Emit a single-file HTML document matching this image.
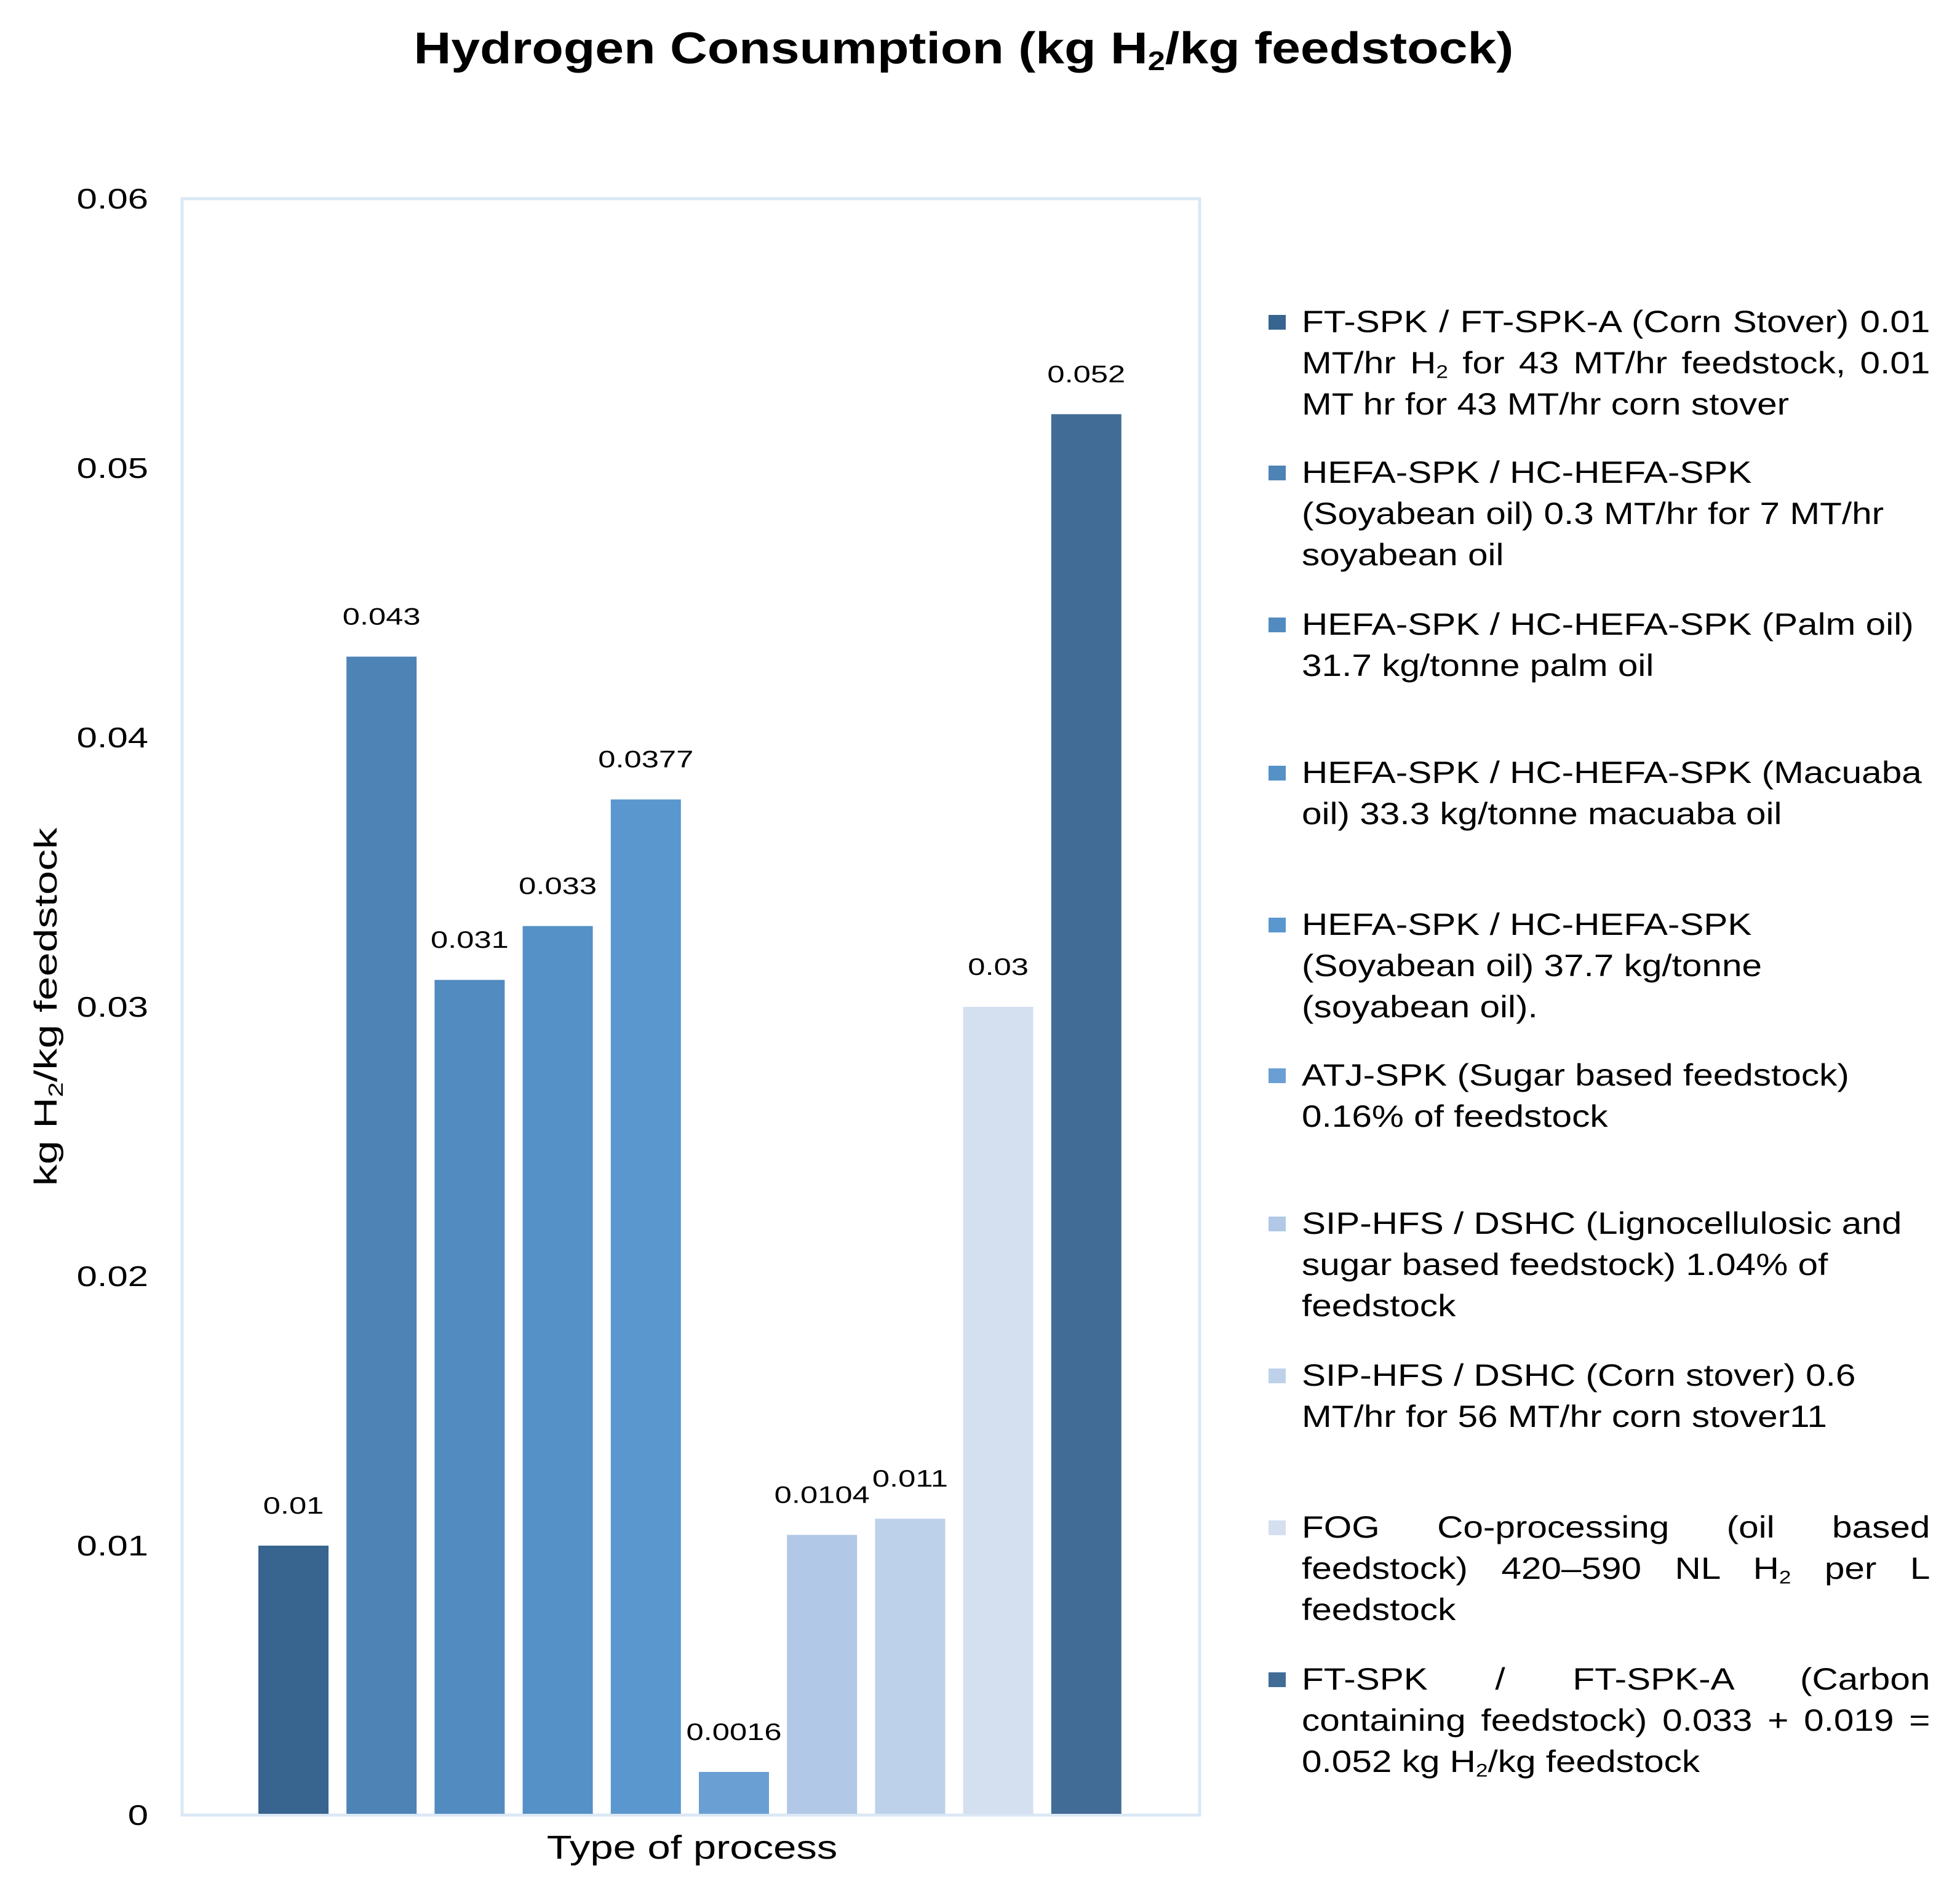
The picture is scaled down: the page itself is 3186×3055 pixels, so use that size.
<!DOCTYPE html>
<html><head><meta charset="utf-8"><style>
html,body{margin:0;padding:0;background:#fff;}
body{width:3186px;height:3055px;position:relative;overflow:hidden;font-family:"Liberation Sans",Arial,sans-serif;color:#000;}
#title{position:absolute;left:-30px;width:3186px;top:38px;text-align:center;font-weight:bold;font-size:72px;transform:scaleX(1.17);transform-origin:1573px 0;}
#legend{position:absolute;left:2062px;top:0;width:1080px;}
.le{position:absolute;left:0;width:1080px;font-size:50px;line-height:67px;}
.sw{position:absolute;left:0;top:22px;width:28px;height:24px;}
.lt{margin-left:54px;width:873px;transform:scaleX(1.17);transform-origin:0 0;}
.ln{white-space:nowrap;text-align:left;}
.ln.j{text-align:justify;text-align-last:justify;}
sub{font-size:60%;vertical-align:-0.25em;line-height:0;}
</style></head><body>
<div id="title">Hydrogen Consumption (kg H<sub>2</sub>/kg feedstock)</div>
<svg id="chart" width="3186" height="3055" style="position:absolute;left:0;top:0" xmlns="http://www.w3.org/2000/svg"></svg>
<div id="legend"></div>
<script>
const categories=["FT-SPK corn stover","HEFA soyabean 0.3","HEFA palm","HEFA macuaba","HEFA soyabean 37.7","ATJ-SPK","SIP lignocellulosic","SIP corn stover","FOG co-processing","FT-SPK carbon"];
const values=[0.01,0.043,0.031,0.033,0.0377,0.0016,0.0104,0.011,0.03,0.052];
const valueLabels=["0.01","0.043","0.031","0.033","0.0377","0.0016","0.0104","0.011","0.03","0.052"];
const colors=["#386490","#4e83b5","#528bc0","#5590c7","#5a97cf","#6a9fd4","#b1c8e6","#bed1ea","#d4dff0","#416c96"];
const yTicks=[0,0.01,0.02,0.03,0.04,0.05,0.06];
const yTickLabels=["0","0.01","0.02","0.03","0.04","0.05","0.06"];
// each legend entry: lines; "|" prefix = justified full-width line
const legendLines=[
["|FT-SPK / FT-SPK-A (Corn Stover) 0.01","|MT/hr H<sub>2</sub> for 43 MT/hr feedstock, 0.01","MT hr for 43 MT/hr corn stover"],
["HEFA-SPK / HC-HEFA-SPK","(Soyabean oil) 0.3 MT/hr for 7 MT/hr","soyabean oil"],
["HEFA-SPK / HC-HEFA-SPK (Palm oil)","31.7 kg/tonne palm oil"],
["HEFA-SPK / HC-HEFA-SPK (Macuaba","oil) 33.3 kg/tonne macuaba oil"],
["HEFA-SPK / HC-HEFA-SPK","(Soyabean oil) 37.7 kg/tonne","(soyabean oil)."],
["ATJ-SPK (Sugar based feedstock)","0.16% of feedstock"],
["SIP-HFS / DSHC (Lignocellulosic and","sugar based feedstock) 1.04% of","feedstock"],
["SIP-HFS / DSHC (Corn stover) 0.6","MT/hr for 56 MT/hr corn stover11"],
["|FOG Co-processing (oil based","|feedstock) 420–590 NL H<sub>2</sub> per L","feedstock"],
["|FT-SPK / FT-SPK-A (Carbon","|containing feedstock) 0.033 + 0.019 =","0.052 kg H<sub>2</sub>/kg feedstock"]];
const legendTops=[490,735,982,1223,1470,1715,1956,2203,2450,2697];

const NS="http://www.w3.org/2000/svg";
const svg=document.getElementById('chart');
const L=296,R=1950,T=323,B=2951,yMax=0.06;
const y=v=>B-(v/yMax)*(B-T);
const step=143.2,x0=477,bw=114;
const x=i=>x0+i*step;
function mk(t,a){const e=document.createElementNS(NS,t);for(const k in a)e.setAttribute(k,a[k]);svg.appendChild(e);return e;}
const frame=mk('rect',{x:L,y:T,width:R-L,height:B-T,fill:'none',stroke:'#dbe8f5','stroke-width':5});


yTicks.forEach((v,i)=>{
 const t=mk('text',{transform:'translate(241,'+(y(v)+16)+') scale(1.3,1)','text-anchor':'end','font-size':46,'font-family':'Liberation Sans, sans-serif'});
 t.textContent=yTickLabels[i];
 
 
});
values.forEach((v,i)=>{
 const r=mk('rect',{x:x(i)-bw/2,y:y(v),width:bw,height:B-y(v)-2,fill:colors[i]});
 
 
 const t=mk('text',{transform:'translate('+x(i)+','+(y(v)-52)+') scale(1.3,1)','text-anchor':'middle','font-size':39,'font-family':'Liberation Sans, sans-serif'});
 t.textContent=valueLabels[i];
 
 
});
const xt=mk('text',{transform:'translate(1125,3022) scale(1.24,1)','text-anchor':'middle','font-size':54,'font-family':'Liberation Sans, sans-serif'});
xt.textContent='Type of process';


const yt=mk('text',{transform:'translate(92,1637) rotate(-90) scale(1.35,1)','text-anchor':'middle','font-size':52,'font-family':'Liberation Sans, sans-serif'});
yt.innerHTML='kg H<tspan font-size="33" dy="10">2</tspan><tspan dy="-10">/kg feedstock</tspan>';



const leg=document.getElementById('legend');
legendLines.forEach((lines,i)=>{
 const d=document.createElement('div');d.className='le';d.style.top=legendTops[i]+'px';
 
 
 const sw=document.createElement('div');sw.className='sw';sw.style.background=colors[i];
 
 
 const tx=document.createElement('div');tx.className='lt';
 
 
 lines.forEach(s=>{
  const ln=document.createElement('div');
  const j=s.startsWith('|');
  ln.className=j?'ln j':'ln';
  ln.innerHTML=j?s.slice(1):s;
  tx.appendChild(ln);
 });
 d.appendChild(sw);d.appendChild(tx);leg.appendChild(d);
});
</script>
</body></html>
